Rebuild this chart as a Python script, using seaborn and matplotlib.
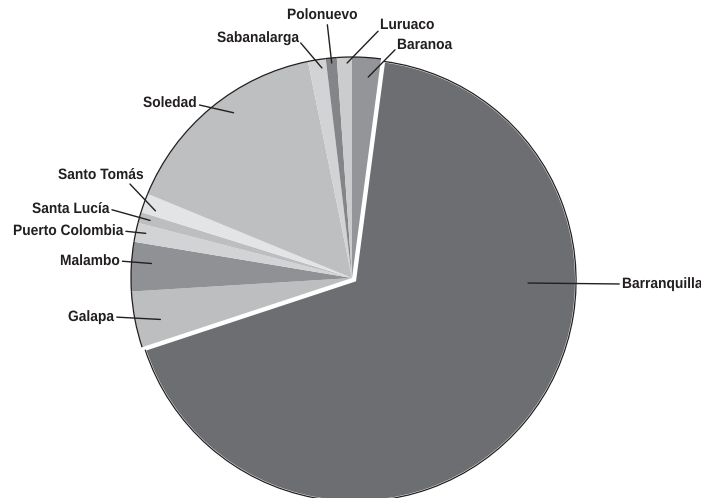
import matplotlib
matplotlib.use("Agg")
import numpy as np
import matplotlib.pyplot as plt
import seaborn as sns
from matplotlib.patches import Arc
from matplotlib.patheffects import AbstractPathEffect
from matplotlib.transforms import Affine2D

# Share of each municipio (percent), clockwise from the top
municipios = ["Baranoa", "Barranquilla", "Galapa", "Malambo", "Puerto Colombia",
              "Santa Lucía", "Santo Tomás", "Soledad", "Sabanalarga", "Polonuevo", "Luruaco"]
porcentaje = [2.1, 67.9, 4.1, 3.6, 1.4, 0.8, 1.4, 15.6, 1.3, 0.8, 1.1]
colores = ["#939598", "#6d6e71", "#bcbec0", "#909194", "#d1d3d4",
           "#bcbec0", "#e3e4e5", "#bdbfc1", "#d1d3d4", "#848588", "#cbcccd"]
explode = [0, 0.018, 0, 0, 0, 0, 0, 0, 0, 0, 0]

# label layout: text left/centre in pixels, where the leader leaves the text (fraction of
# the text box), radius fraction and angular fraction (in the wedge) of the tip
layout = {
    "Baranoa":         ((397, 45), (0, 0.3), 0.912, 0.39),
    "Barranquilla":    ((622, 284), (0, 0.5), 0.783, 0.659),
    "Galapa":          ((68, 317), (1, 0.5), 0.887, 0.59),
    "Malambo":         ((60, 261), (1, 0.5), 0.91, 0.41),
    "Puerto Colombia": ((13, 231), (1, 0.5), 0.955, 0.45),
    "Santa Lucía":     ((32, 209), (1, 0.5), 0.95, 0.5),
    "Santo Tomás":     ((58, 175), (0.82, 0), 0.94, 0.7),
    "Soledad":         ((143, 103), (1, 0.4), 0.92, 0.43),
    "Sabanalarga":     ((217, 38), (1, 0.3), 0.96, 0.28),
    "Polonuevo":       ((287, 15), (0.57, 0), 0.977, 0.5),
    "Luruaco":         ((380, 25), (0, 0.2), 0.973, 0.33),
}

SQ = 0.92  # condensed look: smaller font stretched back up vertically


class Tall(AbstractPathEffect):
    def __init__(self, sy):
        super().__init__()
        self.sy = sy

    def draw_path(self, renderer, gc, tpath, affine, rgbFace=None):
        renderer.draw_path(gc, tpath, Affine2D().scale(1, self.sy) + affine, rgbFace)


sns.set_theme(style="white")
plt.rcParams["font.family"] = ["Liberation Sans", "DejaVu Sans"]

W, H = 701, 498
R = 221.0
CX, CY = 352, 278

fig = plt.figure(figsize=(W / 100, H / 100), dpi=100)
ax = fig.add_axes([0, 0, 1, 1])

wedges, _ = ax.pie(porcentaje, colors=colores, explode=explode, startangle=90,
                   counterclock=False, radius=1, wedgeprops=dict(linewidth=0))
wedges[1].set_edgecolor("white")
wedges[1].set_linewidth(1.5)

# thin dark outer outline
for w in wedges:
    ax.add_patch(Arc(w.center, 2 * w.r, 2 * w.r, theta1=w.theta1, theta2=w.theta2,
                     color="#231f20", lw=0.9, zorder=3))

for w, name in zip(wedges, municipios):
    (px, py), relpos, rf, tf = layout[name]
    th = np.deg2rad(w.theta1 + tf * (w.theta2 - w.theta1))
    cx, cy = w.center
    tip = (cx + w.r * rf * np.cos(th), cy + w.r * rf * np.sin(th))
    ax.annotate(name, xy=tip, xycoords="data",
                xytext=(px / W, 1 - py / H), textcoords="axes fraction",
                ha="left", va="center", fontsize=10.8 * SQ, fontweight="bold",
                color="#231f20", path_effects=[Tall(1 / SQ)],
                arrowprops=dict(arrowstyle="-", color="#231f20", lw=1.0, patchA=None,
                                shrinkA=2, shrinkB=0, relpos=relpos),
                zorder=4)

ax.set_xlim(-CX / R, (W - CX) / R)
ax.set_ylim(-(H - CY) / R, CY / R)
ax.set_aspect("equal")
ax.axis("off")

fig.savefig("out.png", dpi=100)
